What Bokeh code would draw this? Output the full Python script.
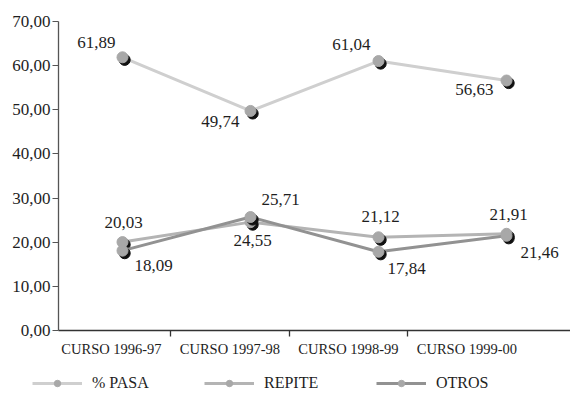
from bokeh.plotting import figure
from bokeh.layouts import column
from bokeh.models import (Range1d, LinearAxis, FixedTicker, ColumnDataSource,
                          Legend, LegendItem)
from bokeh.core.properties import value
from bokeh.embed import file_html
from bokeh.resources import INLINE

# ---- data ----
cursos = ["CURSO 1996-97", "CURSO 1997-98", "CURSO 1998-99", "CURSO 1999-00"]
pasa = [61.89, 49.74, 61.04, 56.63]
repite = [20.03, 24.55, 21.12, 21.91]
otros = [18.09, 25.71, 17.84, 21.46]
y_ticks = [0, 10, 20, 30, 40, 50, 60, 70]

FONT = "Liberation Serif"
TXT = "#1e1e1e"

xs = list(range(len(cursos)))

p = figure(width=570, height=364,
           x_range=Range1d(-0.5, 3.5), y_range=Range1d(0, 70),
           output_backend="svg", toolbar_location=None,
           x_axis_location=None, min_border_left=58, min_border_top=21,
           min_border_right=0, min_border_bottom=34)
p.outline_line_color = None
p.xgrid.visible = False
p.ygrid.visible = False
p.background_fill_color = "white"
p.border_fill_color = "white"

# y axis
ya = p.yaxis[0]
ya.ticker = FixedTicker(ticks=y_ticks, minor_ticks=[])
ya.major_label_overrides = {v: f"{v:.2f}".replace(".", ",") for v in y_ticks}
ya.major_label_text_font = FONT
ya.major_label_text_font_size = "17px"
ya.major_label_text_color = TXT
ya.axis_line_color = "#555555"
ya.axis_line_width = 1.3
ya.major_tick_line_color = "#555555"
ya.major_tick_out = 6
ya.major_tick_in = 0
ya.major_label_standoff = 2

# x axis on its own range
p.extra_x_ranges = {"ax": Range1d(-0.447, 3.874)}
xa = LinearAxis(x_range_name="ax",
                ticker=FixedTicker(ticks=xs, minor_ticks=[0.5, 1.5, 2.5]))
xa.major_label_overrides = {i: c for i, c in enumerate(cursos)}
xa.major_label_text_font = FONT
xa.major_label_text_font_size = "14.5px"
xa.major_label_text_color = TXT
xa.axis_line_color = "#333333"
xa.axis_line_width = 1.3
xa.major_tick_line_color = None
xa.major_tick_out = 6
xa.major_tick_in = 0
xa.minor_tick_line_color = "#333333"
xa.minor_tick_out = 6
xa.minor_tick_in = 0
xa.minor_tick_line_width = 1.3
xa.major_label_standoff = 4
p.add_layout(xa, "below")

series = [("% PASA", pasa, "#cfcfcf"), ("REPITE", repite, "#b4b4b4"),
          ("OTROS", otros, "#929292")]

dx = 2.2 / 128.0
dy = 2.6 / (309 / 70.0)

for name, vals, col in series:
    p.line(xs, vals, line_color=col, line_width=3)
    p.scatter([x + dx for x in xs], [v - dy for v in vals], size=11,
              fill_color="#111111", line_color="#111111")
    p.scatter(xs, vals, size=11, fill_color="#a8a8a8", line_color="#a8a8a8")

# data labels
lab_x, lab_y, lab_t, xo, yo, al, bl = [], [], [], [], [], [], []

def add(x, v, x_off, y_off, align, base):
    lab_x.append(x); lab_y.append(v)
    lab_t.append(f"{v:.2f}".replace(".", ","))
    xo.append(x_off); yo.append(y_off); al.append(align); bl.append(base)

# % PASA
add(0, pasa[0], -7, -9, "right", "bottom")
add(1, pasa[1], -11, 5, "right", "top")
add(2, pasa[2], -8, -11, "right", "bottom")
add(3, pasa[3], -13, 3, "right", "top")
# REPITE
add(0, repite[0], 1, -14, "center", "bottom")
add(1, repite[1], 2, 13, "center", "top")
add(2, repite[2], 2, -15, "center", "bottom")
add(3, repite[3], 2, -14, "center", "bottom")
# OTROS
add(0, otros[0], 12, 9, "left", "top")
add(1, otros[1], 11, -12, "left", "bottom")
add(2, otros[2], 9, 11, "left", "top")
add(3, otros[3], 14, 11, "left", "top")

src = ColumnDataSource(dict(x=lab_x, y=lab_y, t=lab_t, xo=xo, yo=yo, al=al, bl=bl))
p.text(x="x", y="y", text="t", x_offset="xo", y_offset="yo",
       text_align="al", text_baseline="bl", source=src,
       text_font=value(FONT), text_font_size="17px", text_color=TXT)

# ---- legend strip (series drawn outside its visible range; only the legend shows) ----
p2 = figure(width=570, height=28, x_range=Range1d(-10, -9), y_range=Range1d(-10, -9),
            output_backend="svg", toolbar_location=None,
            x_axis_location=None, y_axis_location=None, min_border=0)
p2.outline_line_color = None
p2.xgrid.visible = False
p2.ygrid.visible = False
leg_x = -26
try:
    p2.frame_align = False
    leg_x = 32
except Exception:
    pass

items = []
for name, vals, col in series:
    ln = p2.line(xs, vals, line_color=col, line_width=3)
    pt = p2.scatter(xs, vals, size=12, fill_color="#a8a8a8", line_color="#a8a8a8")
    items.append(LegendItem(label=name, renderers=[ln, pt]))

legend = Legend(items=items, orientation="horizontal", location=(leg_x, 0),
                glyph_width=50, glyph_height=16, label_standoff=10,
                label_width=110, spacing=2, padding=0, margin=0,
                label_text_font=FONT, label_text_font_size="16px",
                label_text_color=TXT, border_line_color=None,
                background_fill_alpha=0)
p2.add_layout(legend, "center")

layout = column(p, p2, spacing=0)
open("out.html", "w").write(file_html(layout, INLINE))
